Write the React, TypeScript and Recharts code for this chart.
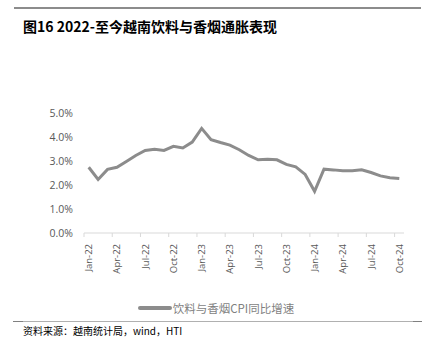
import React from "react"
import { Legend, Line, LineChart, XAxis, YAxis } from "recharts"

const months = [
  "Jan-22", "Feb-22", "Mar-22", "Apr-22", "May-22", "Jun-22", "Jul-22", "Aug-22", "Sep-22", "Oct-22", "Nov-22", "Dec-22",
  "Jan-23", "Feb-23", "Mar-23", "Apr-23", "May-23", "Jun-23", "Jul-23", "Aug-23", "Sep-23", "Oct-23", "Nov-23", "Dec-23",
  "Jan-24", "Feb-24", "Mar-24", "Apr-24", "May-24", "Jun-24", "Jul-24", "Aug-24", "Sep-24", "Oct-24",
]

const cpiYoy = [
  2.74, 2.23, 2.65, 2.74, 2.98, 3.23, 3.44, 3.49, 3.44, 3.61, 3.54, 3.79,
  4.36, 3.89, 3.77, 3.66, 3.47, 3.23, 3.05, 3.07, 3.05, 2.86, 2.76, 2.44,
  1.74, 2.66, 2.63, 2.59, 2.59, 2.63, 2.52, 2.38, 2.3, 2.27,
]

const yTicks = [0, 1, 2, 3, 4, 5]
const xTicks = [0, 3, 6, 9, 12, 15, 18, 21, 24, 27, 30, 33]

const SERIES_NAME = "饮料与香烟CPI同比增速"
const LINE_COLOR = "#8c8c8c"
const TEXT_GRAY = "#595959"

const data = months.map((m, i) => ({ idx: i, label: m, value: cpiYoy[i] }))

// Excel style: label centred on the month, tick mark on the boundary before it
function MonthTick(props: any) {
  const { x, y, payload } = props
  const half = 320 / 34 / 2
  return (
    <g>
      <line x1={x - half} x2={x - half} y1={y - 8} y2={y - 4} stroke="#d9d9d9" />
      <text
        x={x}
        y={y + 3}
        transform={`rotate(-90 ${x} ${y + 3})`}
        textAnchor="end"
        dominantBaseline="central"
        fontSize={9.5}
        fill={TEXT_GRAY}
        fontFamily="'Open Sans', sans-serif"
      >
        {months[payload.value]}
      </text>
    </g>
  )
}

function LegendLine() {
  return (
    <div
      style={{
        display: "flex",
        alignItems: "center",
        justifyContent: "center",
        height: 24,
        marginLeft: 4,
        position: "relative",
        top: 5,
      }}
    >
      <span style={{ display: "inline-block", width: 34, height: 4, background: LINE_COLOR, borderRadius: 2 }} />
      <span style={{ fontSize: 11.5, color: "#7f7f7f", fontFamily: "'Noto Sans CJK SC', sans-serif", marginLeft: 1 }}>
        {SERIES_NAME}
      </span>
    </div>
  )
}

export default function App() {
  return (
    <div style={{ position: "fixed", left: 0, top: 0, width: 435, height: 351, background: "#fff" }}>
      <div style={{ position: "absolute", left: 14, top: 7, width: 407, height: 2, background: "#8c8c8c" }} />
      <div
        style={{
          position: "absolute",
          left: 23,
          top: 16,
          fontSize: 14,
          fontWeight: 700,
          color: "#000",
          fontFamily: "'Noto Sans CJK SC', sans-serif",
          whiteSpace: "nowrap",
        }}
      >
        图16 2022-至今越南饮料与香烟通胀表现
      </div>
      <div style={{ position: "absolute", left: 0, top: 0 }}>
        <LineChart
          width={435}
          height={315}
          data={data}
          margin={{ top: 113, right: 31, bottom: 0, left: 24 }}
        >
          <XAxis
            dataKey="idx"
            type="number"
            domain={[-0.5, 33.5]}
            ticks={xTicks}
            interval={0}
            tick={<MonthTick />}
            tickLine={false}
            axisLine={{ stroke: "#d9d9d9" }}
            height={58}
          />
          <YAxis
            domain={[0, 5]}
            ticks={yTicks}
            width={60}
            axisLine={false}
            tickLine={false}
            tickFormatter={(v) => `${v.toFixed(1)}%`}
            tick={{ fontSize: 10.5, fill: TEXT_GRAY, fontFamily: "'Open Sans', sans-serif", dx: -3 }}
          />
          <Legend verticalAlign="bottom" height={24} content={<LegendLine />} />
          <Line
            dataKey="value"
            name={SERIES_NAME}
            stroke={LINE_COLOR}
            strokeWidth={3}
            dot={false}
            isAnimationActive={false}
          />
        </LineChart>
      </div>
      <div style={{ position: "absolute", left: 13, top: 321, width: 409, height: 1, background: "#b0b0b0" }} />
      <div style={{ position: "absolute", left: 13, top: 321, width: 10, height: 1, background: "#808080" }} />
      <div style={{ position: "absolute", left: 413, top: 321, width: 9, height: 1, background: "#808080" }} />
      <div
        style={{
          position: "absolute",
          left: 23,
          top: 323,
          fontSize: 10,
          color: "#000",
          fontFamily: "'Noto Sans CJK SC', sans-serif",
          whiteSpace: "nowrap",
        }}
      >
        资料来源：越南统计局，wind，HTI
      </div>
    </div>
  )
}
